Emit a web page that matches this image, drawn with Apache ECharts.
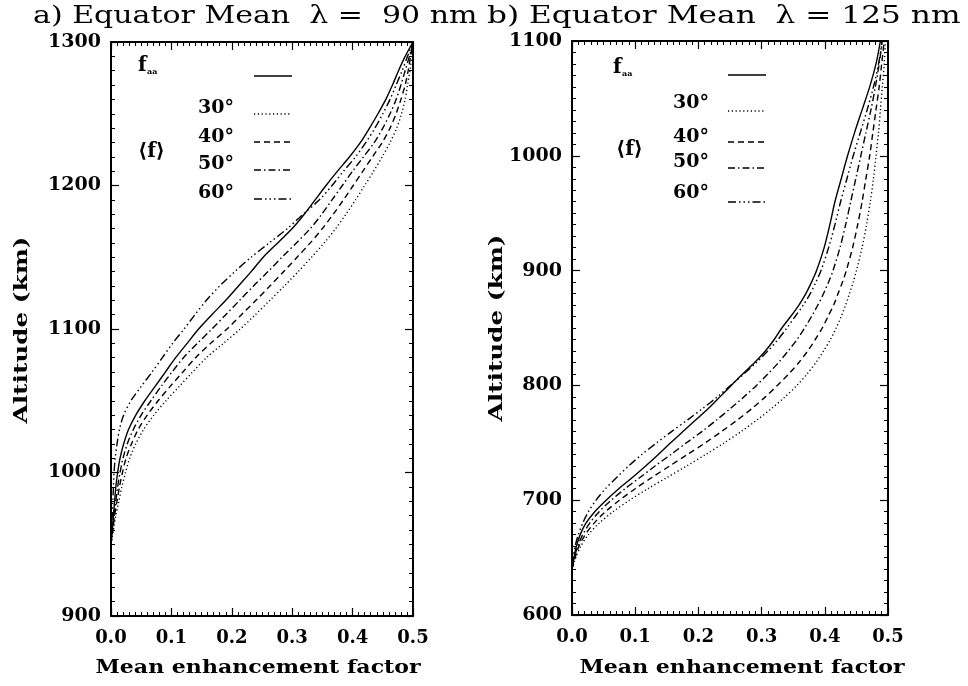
<!DOCTYPE html>
<html><head><meta charset="utf-8">
<script src="https://cdn.jsdelivr.net/npm/echarts@6/dist/echarts.min.js"></script>
<style>html,body{margin:0;padding:0;background:#fff}#c{width:968px;height:686px}</style>
</head><body><div id="c"></div>
<script>
// ---------- Data: panel a (lambda = 90 nm) ----------
const altA = [950,960,970,980,990,1000,1010,1020,1030,1040,1050,1060,1070,1080,1090,1100,1110,1120,1130,1140,1150,1160,1170,1180,1190,1200,1210,1220,1230,1240,1250,1260,1270,1280,1290,1300];
const faaA = [0,0.002,0.004,0.006,0.008,0.011,0.015,0.021,0.029,0.041,0.056,0.073,0.090,0.107,0.126,0.145,0.167,0.190,0.211,0.232,0.252,0.276,0.300,0.320,0.338,0.356,0.375,0.395,0.413,0.428,0.442,0.455,0.466,0.476,0.487,0.500];
const f30A = [0,0.004,0.008,0.013,0.018,0.024,0.031,0.041,0.054,0.071,0.091,0.113,0.135,0.158,0.186,0.214,0.239,0.263,0.287,0.310,0.332,0.353,0.372,0.389,0.405,0.420,0.435,0.449,0.462,0.473,0.481,0.487,0.491,0.495,0.498,0.500];
const f40A = [0,0.003,0.006,0.010,0.014,0.019,0.025,0.034,0.045,0.060,0.078,0.098,0.119,0.140,0.165,0.192,0.216,0.240,0.263,0.286,0.308,0.330,0.350,0.368,0.385,0.401,0.417,0.433,0.449,0.462,0.472,0.480,0.487,0.492,0.496,0.500];
const f50A = [0,0.002,0.005,0.008,0.011,0.015,0.020,0.027,0.037,0.050,0.066,0.083,0.101,0.120,0.143,0.167,0.190,0.213,0.236,0.260,0.283,0.307,0.330,0.349,0.366,0.383,0.400,0.418,0.436,0.450,0.462,0.472,0.480,0.487,0.494,0.500];
const f60A = [0,0.001,0.002,0.003,0.004,0.005,0.007,0.010,0.014,0.021,0.033,0.050,0.068,0.085,0.102,0.121,0.139,0.158,0.180,0.205,0.232,0.262,0.292,0.318,0.345,0.366,0.385,0.405,0.422,0.437,0.450,0.462,0.472,0.482,0.491,0.500];

// ---------- Data: panel b (lambda = 125 nm) ----------
const altB = [640,650,660,670,680,690,700,710,720,730,740,750,760,770,780,790,800,810,820,830,840,850,860,870,880,890,900,920,940,960,980,1000,1020,1040,1060,1080,1100];
const faaB = [0,0.003,0.007,0.013,0.022,0.036,0.054,0.074,0.096,0.117,0.137,0.156,0.176,0.196,0.216,0.234,0.252,0.270,0.289,0.306,0.320,0.332,0.346,0.359,0.370,0.379,0.387,0.399,0.408,0.416,0.426,0.436,0.447,0.459,0.471,0.481,0.488];
const f30B = [0,0.006,0.014,0.026,0.043,0.065,0.091,0.120,0.151,0.182,0.212,0.241,0.268,0.293,0.316,0.337,0.356,0.372,0.386,0.398,0.409,0.418,0.426,0.433,0.439,0.445,0.450,0.459,0.466,0.472,0.477,0.481,0.485,0.488,0.491,0.494,0.496];
const f40B = [0,0.005,0.011,0.021,0.035,0.053,0.075,0.100,0.127,0.155,0.183,0.211,0.237,0.262,0.285,0.306,0.325,0.343,0.359,0.373,0.385,0.396,0.405,0.414,0.421,0.428,0.434,0.444,0.452,0.459,0.465,0.471,0.476,0.481,0.486,0.490,0.494];
const f50B = [0,0.004,0.009,0.017,0.028,0.043,0.062,0.084,0.108,0.132,0.157,0.181,0.206,0.229,0.251,0.272,0.292,0.310,0.327,0.342,0.356,0.368,0.379,0.389,0.398,0.406,0.413,0.424,0.433,0.441,0.449,0.457,0.465,0.473,0.480,0.486,0.491];
const f60B = [0,0.002,0.005,0.010,0.017,0.026,0.038,0.053,0.071,0.090,0.111,0.134,0.158,0.183,0.207,0.230,0.251,0.272,0.292,0.310,0.326,0.340,0.353,0.366,0.377,0.386,0.394,0.406,0.416,0.425,0.435,0.445,0.456,0.467,0.477,0.485,0.491];

// ---------- Text ----------
const titleA = "a) Equator Mean  \u03bb =  90 nm";
const titleB = "b) Equator Mean  \u03bb = 125 nm";
const xName = "Mean enhancement factor";
const yName = "Altitude (km)";
const legendLabels = ["30\u00b0","40\u00b0","50\u00b0","60\u00b0"];

const SERIF = "'DejaVu Serif', 'Liberation Serif', serif";
const styles = {
  faa: {type:'solid', width:1.4},
  s30: {type:[1.2,2.6], width:1.4},
  s40: {type:[6,4], width:1.4},
  s50: {type:[7,3,1.5,3], width:1.4},
  s60: {type:[8,3,1.5,3,1.5,3,1.5,3], width:1.4}
};

const chart = echarts.init(document.getElementById('c'), null, {renderer:'canvas'});

function xAxes(grid){
  const common = {type:'value', gridIndex:grid, min:0, max:0.5, interval:0.1,
    axisLine:{show:true, onZero:false, lineStyle:{color:'#000', width:2}},
    axisTick:{show:true, inside:true, length:8, lineStyle:{color:'#000', width:1.2}},
    minorTick:{show:true, splitNumber:10, length:4, lineStyle:{color:'#000', width:1}},
    splitLine:{show:false}};
  return [
    Object.assign({}, common, {position:'bottom',
      axisLabel:{show:true, margin:13, color:'#000', fontFamily:SERIF, fontWeight:'bold', fontSize:18,
        formatter:v=>v.toFixed(1)}}),
    Object.assign({}, common, {position:'top', axisLabel:{show:false}})
  ];
}
function yAxes(grid, min, max){
  const common = {type:'value', gridIndex:grid, min:min, max:max, interval:100,
    axisLine:{show:true, onZero:false, lineStyle:{color:'#000', width:2}},
    axisTick:{show:true, inside:true, length:8, lineStyle:{color:'#000', width:1.2}},
    minorTick:{show:true, splitNumber:10, length:4, lineStyle:{color:'#000', width:1}},
    splitLine:{show:false}};
  return [
    Object.assign({}, common, {position:'left',
      axisLabel:{show:true, margin:10, color:'#000', fontFamily:SERIF, fontWeight:'bold', fontSize:19,
        formatter:v=>String(v)}}),
    Object.assign({}, common, {position:'right', axisLabel:{show:false}})
  ];
}

function mk(alt, vals, style, xi, yi){
  return {type:'line', xAxisIndex:xi, yAxisIndex:yi, showSymbol:false, symbol:'none',
    smooth:0.3,
    data: alt.map((a,i)=>[vals[i], a]), lineStyle:Object.assign({color:'#000'}, style),
    silent:true, animation:false, z:3};
}

function txt(x, y, text, font, opts){
  return Object.assign({type:'text', x:x, y:y, silent:true,
    style:{text:text, font:font, fill:'#000', align:'left', verticalAlign:'middle'}}, opts||{});
}

function legendGraphics(fx, lx, rows){
  const g = [];
  g.push(txt(fx, rows.fy, 'f', "bold 20px "+SERIF));
  g.push(txt(fx+9, rows.fy+6, 'aa', "bold 8px "+SERIF));
  g.push({type:'line', silent:true, shape:{x1:lx, y1:rows.lines[0], x2:lx+38, y2:rows.lines[0]}, style:{stroke:'#000', lineWidth:1.4}});
  const dashes = [styles.s30.type, styles.s40.type, styles.s50.type, styles.s60.type];
  for(let i=0;i<4;i++){
    g.push(txt(rows.labX, rows.labs[i], legendLabels[i], "bold 19px "+SERIF));
    g.push({type:'line', silent:true, shape:{x1:lx, y1:rows.lines[i+1], x2:lx+38, y2:rows.lines[i+1]}, style:{stroke:'#000', lineWidth:1.4, lineDash:dashes[i]}});
  }
  g.push(txt(rows.angX, rows.angY, '\u27e8f\u27e9', "bold 20px "+SERIF));
  return g;
}

const labels = [
  txt(33, 17, titleA, "normal 24px "+SERIF, {scaleX:1.25}),
  txt(487, 17, titleB, "normal 24px "+SERIF, {scaleX:1.30}),
  txt(258, 668, xName, "bold 19px "+SERIF, {scaleX:1.16}),
  txt(742, 668, xName, "bold 19px "+SERIF, {scaleX:1.16}),
  txt(22, 330, yName, "bold 19px "+SERIF, {rotation:Math.PI/2, scaleX:1.3}),
  txt(497, 328, yName, "bold 19px "+SERIF, {rotation:Math.PI/2, scaleX:1.3})
];
for(let i=2;i<6;i++) labels[i].style.align='center';

const option = {
  animation:false,
  backgroundColor:'#fff',
  grid:[
    {left:111, top:42, width:302, height:574},
    {left:572, top:41, width:316, height:574}
  ],
  xAxis: xAxes(0).concat(xAxes(1)),
  yAxis: yAxes(0,900,1300).concat(yAxes(1,600,1100)),
  series:[
    mk(altA, faaA, styles.faa, 0, 0),
    mk(altA, f30A, styles.s30, 0, 0),
    mk(altA, f40A, styles.s40, 0, 0),
    mk(altA, f50A, styles.s50, 0, 0),
    mk(altA, f60A, styles.s60, 0, 0),
    mk(altB, faaB, styles.faa, 2, 2),
    mk(altB, f30B, styles.s30, 2, 2),
    mk(altB, f40B, styles.s40, 2, 2),
    mk(altB, f50B, styles.s50, 2, 2),
    mk(altB, f60B, styles.s60, 2, 2)
  ],
  graphic: labels
    .concat(legendGraphics(138, 254, {fy:66, lines:[76,114,142,170,199], labX:198, labs:[108,137,164,193], angX:138, angY:152}))
    .concat(legendGraphics(613, 728, {fy:68, lines:[75,111,142,168,202], labX:673, labs:[103,137,162,193], angX:616, angY:150}))
};
chart.setOption(option);
</script></body></html>
